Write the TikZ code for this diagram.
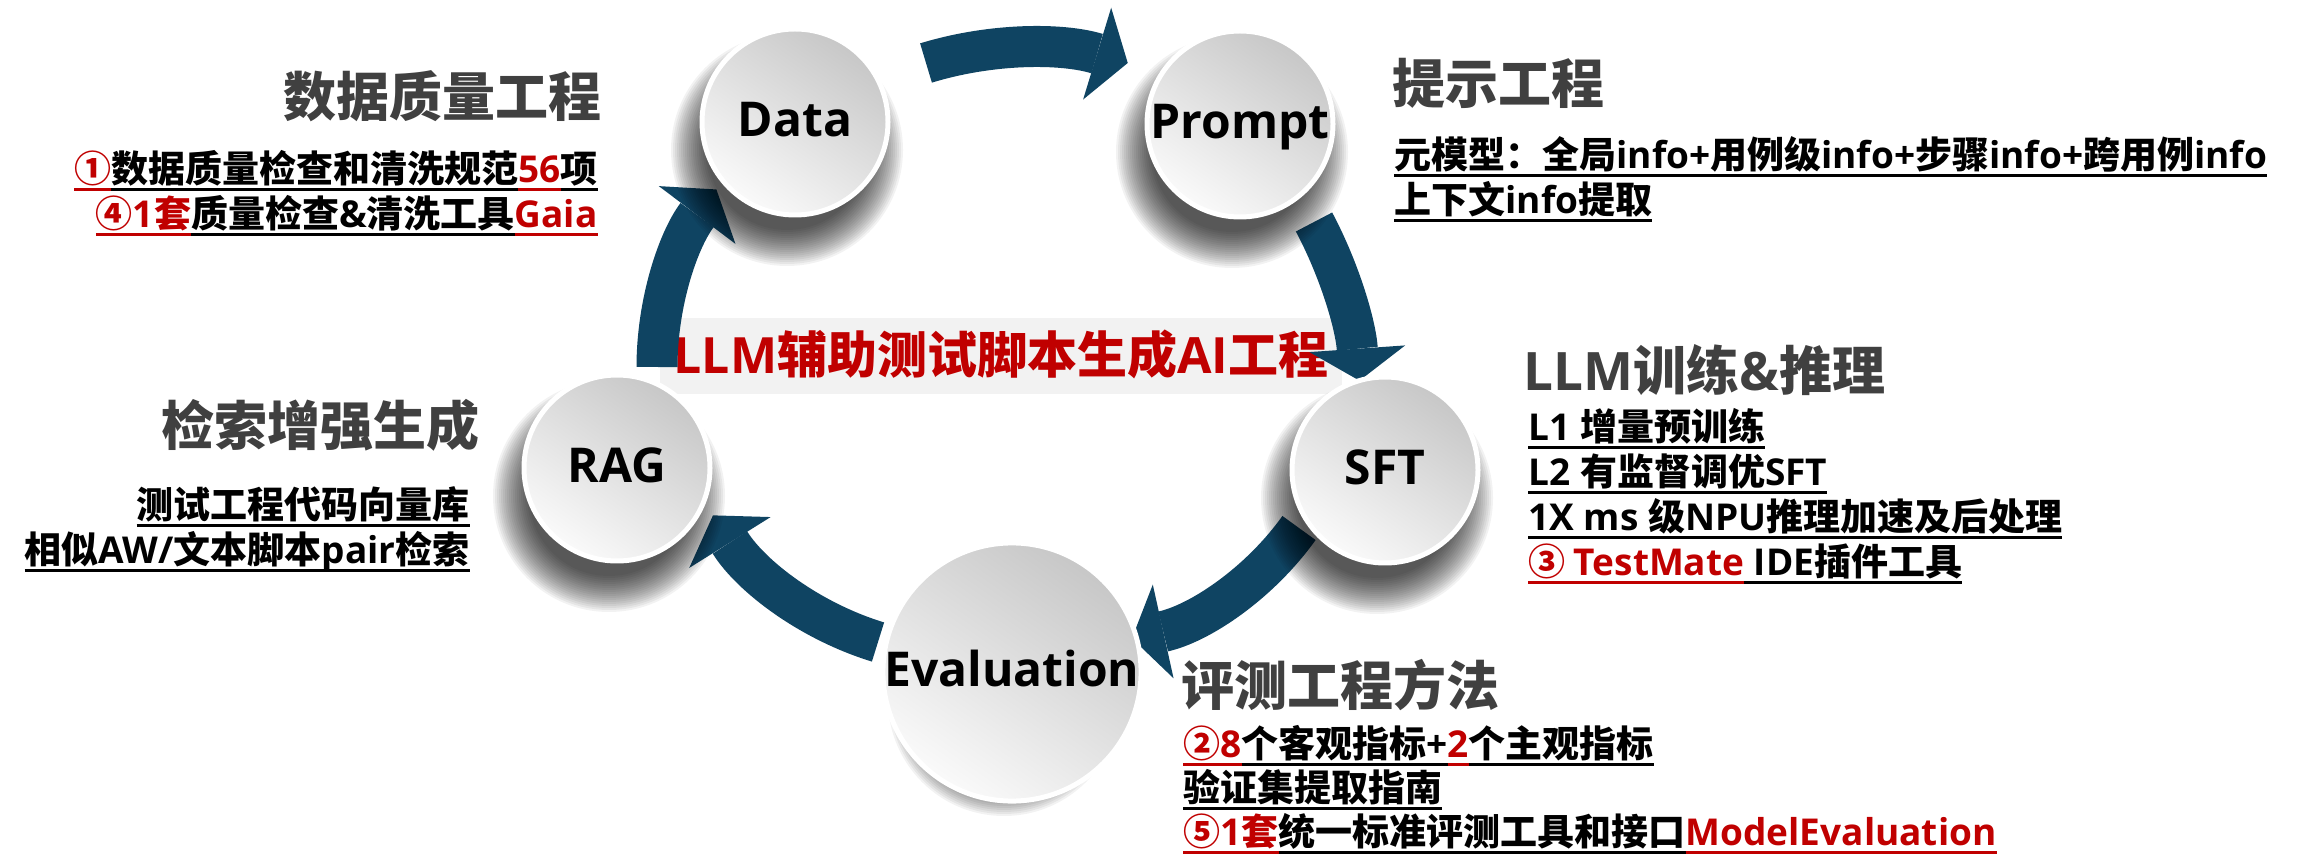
\documentclass[tikz,border=0pt]{standalone}
\usepackage{fontspec}
\setmainfont{Open Sans}
\newfontfamily\latf{Open Sans}
\newfontfamily\cjkf{Noto Sans CJK SC}
\usetikzlibrary{arrows.meta}
\definecolor{myred}{RGB}{192,0,0}
\definecolor{flowblue}{RGB}{15,68,98}
\definecolor{headgray}{RGB}{64,64,64}
\definecolor{boxgray}{RGB}{242,242,242}
% automatic switch between Latin and CJK fonts
\XeTeXinterchartokenstate=1
\newXeTeXintercharclass\CJKc
\newcount\myc
\newcommand\setcls[2]{\myc=#1\relax\loop\XeTeXcharclass\myc=\CJKc\advance\myc by 1\relax\ifnum\myc<#2\relax\repeat}
\setcls{"2460}{"2500}
\setcls{"3000}{"3040}
\setcls{"4E00}{"A000}
\setcls{"FF00}{"FFF0}
\XeTeXinterchartoks 0 \CJKc = {\cjkf}
\XeTeXinterchartoks 4095 \CJKc = {\cjkf}
\XeTeXinterchartoks \CJKc 0 = {\latf}
\XeTeXinterchartoks 4095 0 = {\latf}
% underlined segments
\newcommand\myul[1]{\setbox0=\hbox{#1}\rlap{\vrule height -2.75pt depth 4.25pt width \wd0}\box0}
\newcommand\R[1]{{\color{myred}\myul{#1}}}
\newcommand\K[1]{{\color{black}\myul{#1}}}
\newcommand\softshadow[1]{\foreach \rr in {58,57,...,40}{\fill[black,opacity=0.05] ([shift={(-8,28)}]#1) circle[radius=\rr pt];}}
\tikzset{
  bubble/.style={circle, minimum size=93pt, inner sep=0pt, draw=white, line width=2.5pt,
    top color=black!22, bottom color=black!2, shading angle=-35,
    font=\latf\bfseries\fontsize{24}{28}\selectfont, text height=18pt, text depth=3.6pt},
  flow/.style={draw=flowblue, line width=20.5pt, -{Triangle[width=48pt,length=16pt,line width=0pt]}},
  headtxt/.style={inner sep=0pt, text=headgray, font=\bfseries\fontsize{26.5}{30}\selectfont},
  bodytxt/.style={inner sep=0pt, text=black, font=\bfseries\fontsize{18.5}{22}\selectfont},
  lbl/.style={fill=boxgray, inner sep=0pt, minimum width=341pt, text height=28pt, text depth=10pt,
    text=myred, font=\bfseries\fontsize{25}{30}\selectfont}
}
\begin{document}
\begin{tikzpicture}[x=0.5pt,y=-0.5pt]
\useasboundingbox (0,0) rectangle (2308,854);
\fill[white] (0,0) rectangle (2308,854);

% central title
\node[lbl, anchor=base] (lbl) at (1001,374) {LLM辅助测试脚本生成AI工程};

% cycle arrows
\coordinate (a1s) at (926,63);
\coordinate (a2s) at (1314,222);
\coordinate (a3s) at (1299,528);
\coordinate (a4s) at (878,642);
\coordinate (a5s) at (657,367);
\draw[flow] (a1s) arc[start angle=-253, end angle=-287, radius=172.5pt];
\draw[flow] (a2s) arc[start angle=28, end angle=4, radius=198.5pt];
\draw[flow] (a3s) arc[start angle=-35.6, end angle=-77.5, radius=140pt];
\draw[flow] (a4s) arc[start angle=-107, end angle=-148, radius=148.5pt];
\draw[flow] (a5s) arc[start angle=-180, end angle=-217, radius=147.5pt];

% bubbles
\coordinate (cdata) at (795,122);
\coordinate (cprompt) at (1240,124);
\coordinate (csft) at (1385,470);
\coordinate (ceval) at (1012,672);
\coordinate (crag) at (617,468);
\softshadow{cdata}
\softshadow{cprompt}
\softshadow{csft}
\softshadow{ceval}
\softshadow{crag}
\node[bubble] (data) at (cdata) {Data};
\node[bubble] (prompt) at (cprompt) {Prompt};
\node[bubble] (sft) at (csft) {SFT};
\node[bubble] (eval) at (ceval) {Evaluation};
\node[bubble] (rag) at (crag) {RAG};

% Data block
\node[headtxt, anchor=base east] (h1) at (602,117) {数据质量工程};
\node[bodytxt, anchor=base east] (h1a) at (598,183) {\R{①}\K{数据质量检查和清洗规范}\R{56}\K{项}};
\node[bodytxt, anchor=base east] (h1b) at (598,228) {\R{④1套}\K{质量检查\&清洗工具}\R{Gaia}};

% RAG block
\node[headtxt, anchor=base east] (h5) at (480,446) {检索增强生成};
\node[bodytxt, anchor=base east] (h5a) at (470,519) {\K{测试工程代码向量库}};
\node[bodytxt, anchor=base east] (h5b) at (470,564) {\K{相似AW/文本脚本pair检索}};

% Prompt block
\node[headtxt, anchor=base west] (h2) at (1392,104) {提示工程};
\node[bodytxt, anchor=base west] (h2a) at (1394,169) {\K{元模型：全局info+用例级info+步骤info+跨用例info}};
\node[bodytxt, anchor=base west] (h2b) at (1394,214) {\K{上下文info提取}};

% SFT block
\node[headtxt, anchor=base west] (h3) at (1523,391) {LLM训练\&推理};
\node[bodytxt, anchor=base west] (h3a) at (1528,441) {\K{L1 增量预训练}};
\node[bodytxt, anchor=base west] (h3b) at (1528,486) {\K{L2 有监督调优SFT}};
\node[bodytxt, anchor=base west] (h3c) at (1528,531) {\K{1X ms 级NPU推理加速及后处理}};
\node[bodytxt, anchor=base west] (h3d) at (1528,576) {\R{③ TestMate}\K{ IDE插件工具}};

% Evaluation block
\node[headtxt, anchor=base west] (h4) at (1181,706) {评测工程方法};
\node[bodytxt, anchor=base west] (h4a) at (1183,758) {\R{②8}\K{个客观指标+}\R{2}\K{个主观指标}};
\node[bodytxt, anchor=base west] (h4b) at (1183,802) {\K{验证集提取指南}};
\node[bodytxt, anchor=base west] (h4c) at (1183,846) {\R{⑤1套}\K{统一标准评测工具和接口}\R{ModelEvaluation}};
\end{tikzpicture}
\end{document}
